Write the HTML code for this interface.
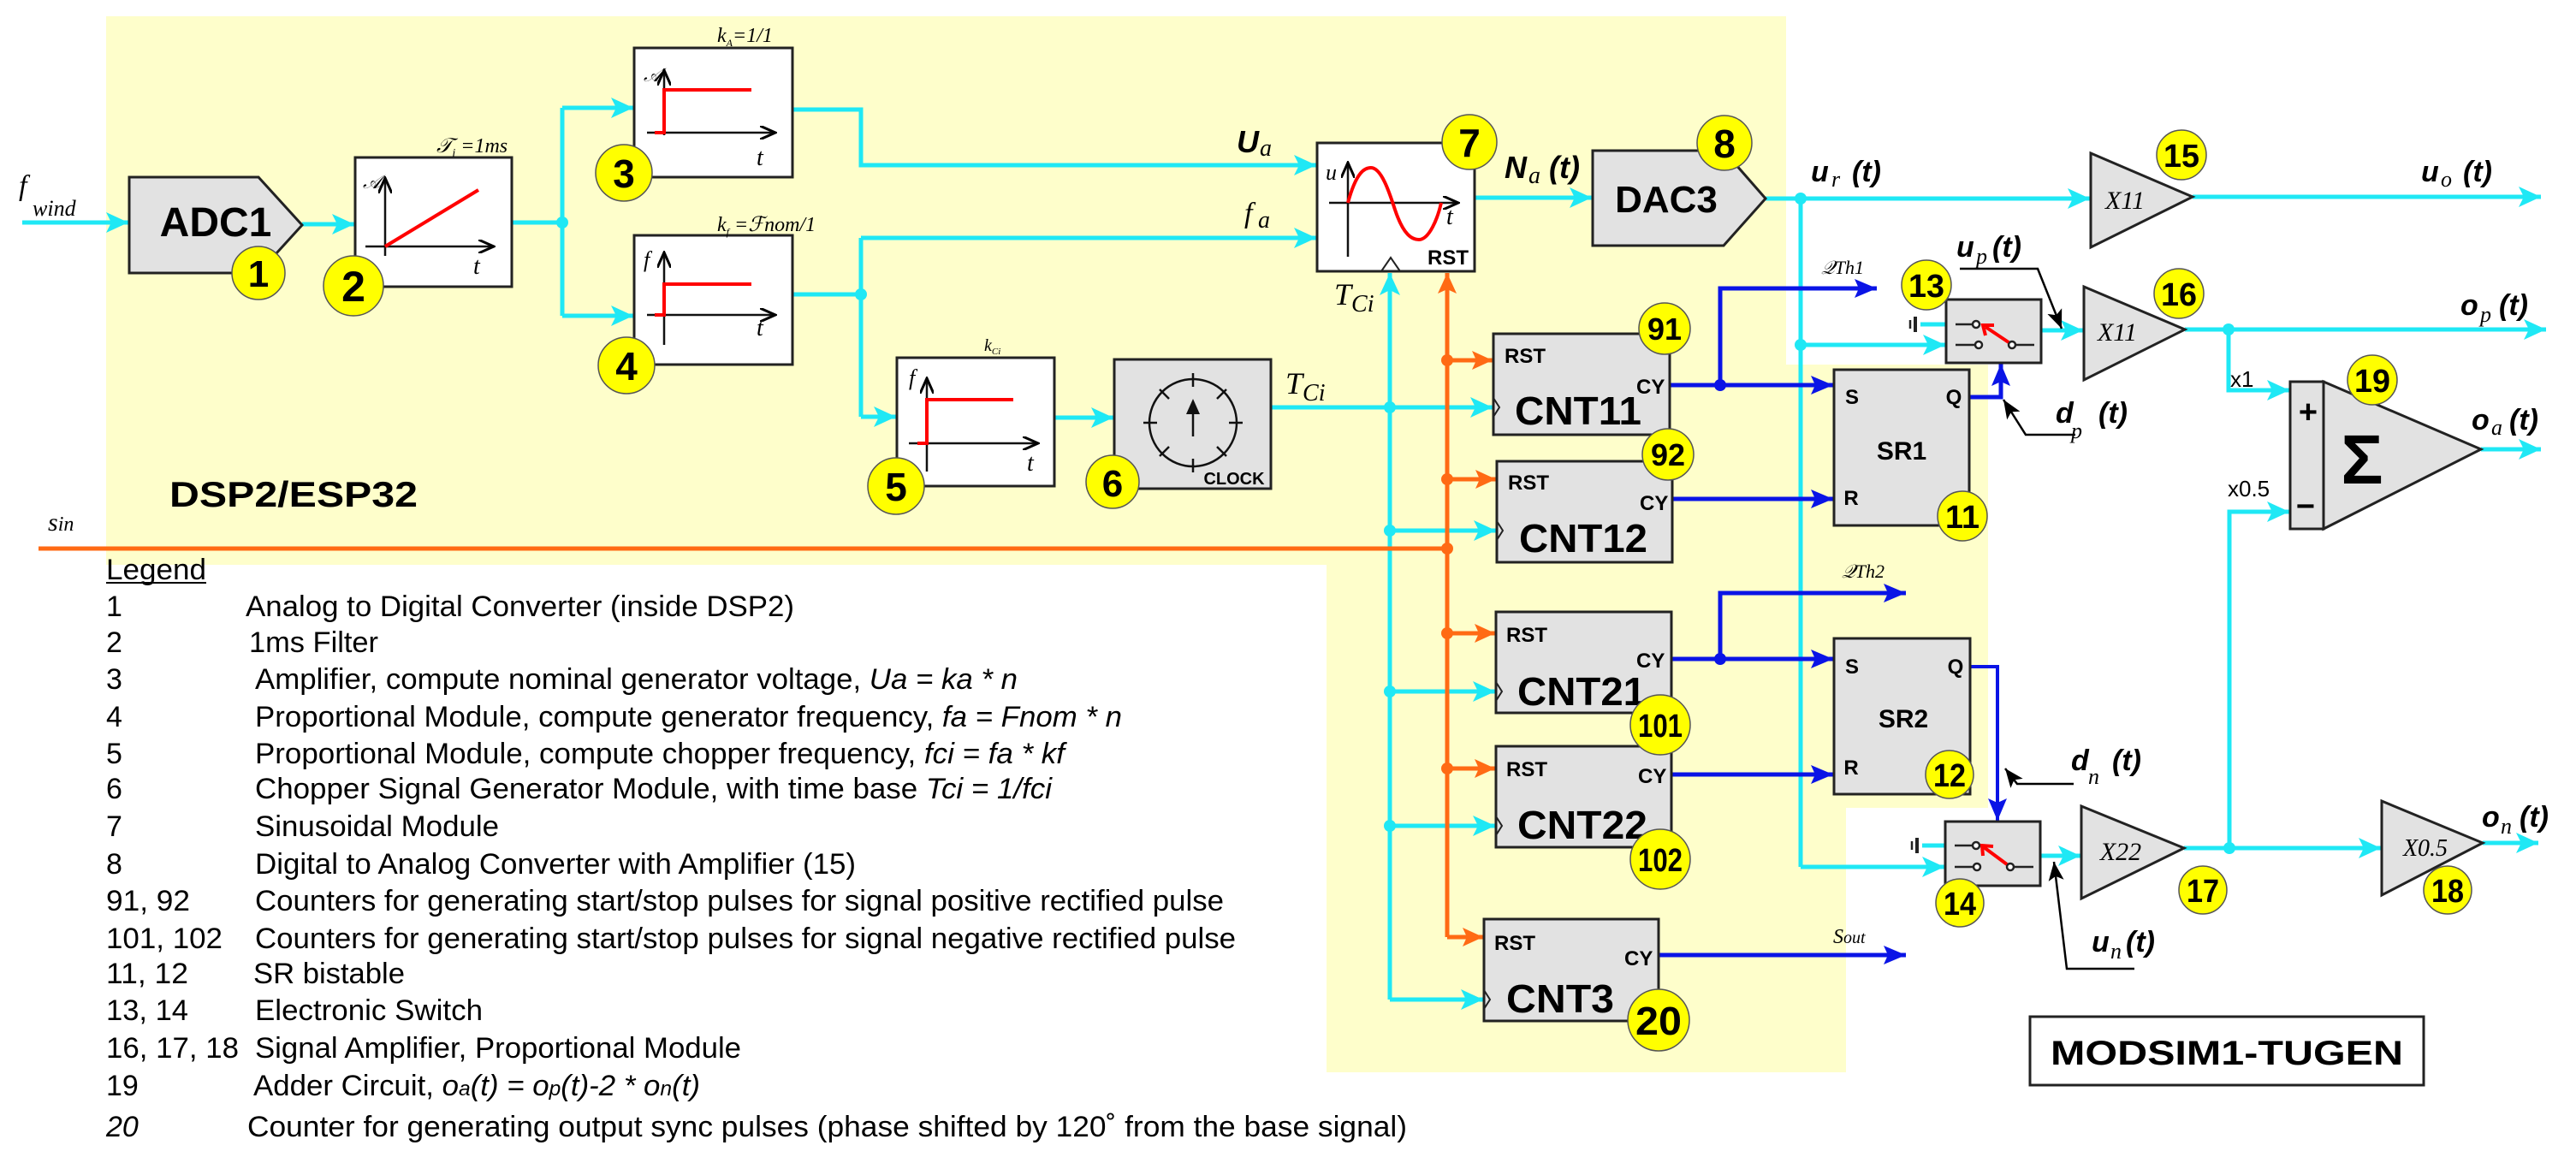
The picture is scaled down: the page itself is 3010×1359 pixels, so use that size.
<!DOCTYPE html>
<html><head><meta charset="utf-8"><style>
html,body{margin:0;padding:0;background:#fff;}
svg{display:block;}
.b{font-family:"Liberation Sans",sans-serif;font-weight:bold;}
.s{font-family:"Liberation Sans",sans-serif;}
.m{font-family:"Liberation Serif",serif;font-style:italic;}
.bi{font-family:"Liberation Sans",sans-serif;font-weight:bold;font-style:italic;}
</style></head><body>
<svg width="3010" height="1359" viewBox="0 0 3010 1359" xmlns="http://www.w3.org/2000/svg">
<defs>
<marker id="ac" markerUnits="userSpaceOnUse" markerWidth="26" markerHeight="24" viewBox="0 0 26 24" refX="26" refY="12" orient="auto"><path d="M0,0 L26,12 L0,24 L6,12 z" fill="#1fe8f5"/></marker>
<marker id="ab" markerUnits="userSpaceOnUse" markerWidth="26" markerHeight="22" viewBox="0 0 26 22" refX="26" refY="11" orient="auto"><path d="M0,0 L26,11 L0,22 L5,11 z" fill="#0a14e6"/></marker>
<marker id="ao" markerUnits="userSpaceOnUse" markerWidth="24" markerHeight="22" viewBox="0 0 24 22" refX="24" refY="11" orient="auto"><path d="M0,0 L24,11 L0,22 L5,11 z" fill="#ff6a14"/></marker>
<marker id="ak" markerUnits="userSpaceOnUse" markerWidth="22" markerHeight="18" viewBox="0 0 22 18" refX="22" refY="9" orient="auto"><path d="M0,0 L22,9 L0,18 L5,9 z" fill="#000"/></marker>
<marker id="ax" markerUnits="userSpaceOnUse" markerWidth="20" markerHeight="16" viewBox="0 0 20 16" refX="18" refY="8" orient="auto"><path d="M0,0 L18,8 L0,16" fill="none" stroke="#000" stroke-width="3"/></marker>
</defs>
<polygon points="124,19 2087,19 2087,426 2323,426 2323,944 2157,944 2157,1253 1550,1253 1550,660 124,660" fill="#fefecb"/>

<g stroke="#1fe8f5" stroke-width="5" fill="none">
<line x1="26" y1="260" x2="150" y2="260" marker-end="url(#ac)"/>
<line x1="353" y1="262" x2="414" y2="262" marker-end="url(#ac)"/>
<line x1="598" y1="260" x2="657" y2="260"/>
<line x1="657" y1="126" x2="657" y2="369"/>
<line x1="657" y1="126" x2="740" y2="126" marker-end="url(#ac)"/>
<line x1="657" y1="369" x2="740" y2="369" marker-end="url(#ac)"/>
<polyline points="926,128 1006,128 1006,193 1538,193" marker-end="url(#ac)"/>
<line x1="926" y1="344" x2="1006" y2="344"/>
<line x1="1006" y1="278" x2="1538" y2="278" marker-end="url(#ac)"/>
<line x1="1006" y1="278" x2="1006" y2="487"/>
<line x1="1006" y1="487" x2="1047" y2="487" marker-end="url(#ac)"/>
<line x1="1232" y1="488" x2="1301" y2="488" marker-end="url(#ac)"/>
<line x1="1485" y1="476" x2="1744" y2="476" marker-end="url(#ac)"/>
<line x1="1624" y1="1168" x2="1624" y2="319" marker-end="url(#ac)"/>
<line x1="1624" y1="620" x2="1748" y2="620" marker-end="url(#ac)"/>
<line x1="1624" y1="808" x2="1747" y2="808" marker-end="url(#ac)"/>
<line x1="1624" y1="965" x2="1747" y2="965" marker-end="url(#ac)"/>
<line x1="1624" y1="1168" x2="1733" y2="1168" marker-end="url(#ac)"/>
<line x1="1723" y1="231" x2="1860" y2="231" marker-end="url(#ac)"/>
<line x1="2063" y1="232" x2="2442" y2="232" marker-end="url(#ac)"/>
<line x1="2104" y1="232" x2="2104" y2="1013"/>
<line x1="2104" y1="403" x2="2273" y2="403" marker-end="url(#ac)"/>
<line x1="2104" y1="1013" x2="2272" y2="1013" marker-end="url(#ac)"/>
<line x1="2562" y1="230" x2="2969" y2="230" marker-end="url(#ac)"/>
<line x1="2385" y1="386" x2="2434" y2="386" marker-end="url(#ac)"/>
<line x1="2244" y1="379" x2="2274" y2="379"/>
<line x1="2246" y1="988" x2="2273" y2="988"/>
<line x1="2553" y1="385" x2="2975" y2="385" marker-end="url(#ac)"/>
<polyline points="2604,385 2604,456 2675,456" marker-end="url(#ac)"/>
<line x1="2899" y1="525" x2="2969" y2="525" marker-end="url(#ac)"/>
<line x1="2384" y1="1000" x2="2431" y2="1000" marker-end="url(#ac)"/>
<line x1="2552" y1="991" x2="2782" y2="991" marker-end="url(#ac)"/>
<polyline points="2605,991 2605,598 2675,598" marker-end="url(#ac)"/>
<line x1="2901" y1="985" x2="2966" y2="985" marker-end="url(#ac)"/>
</g>
<g fill="#1fe8f5">
<circle cx="657" cy="260" r="7"/><circle cx="1006" cy="344" r="7"/><circle cx="1624" cy="476" r="7"/>
<circle cx="1624" cy="620" r="7"/><circle cx="1624" cy="808" r="7"/><circle cx="1624" cy="965" r="7"/>
<circle cx="2104" cy="232" r="7"/><circle cx="2104" cy="403" r="7"/><circle cx="2604" cy="385" r="7"/><circle cx="2605" cy="991" r="7"/>
</g>

<g stroke="#ff6a14" stroke-width="5" fill="none">
<line x1="45" y1="641" x2="1691" y2="641"/>
<line x1="1691" y1="1095" x2="1691" y2="319" marker-end="url(#ao)"/>
<line x1="1691" y1="421" x2="1744" y2="421" marker-end="url(#ao)"/>
<line x1="1691" y1="560" x2="1748" y2="560" marker-end="url(#ao)"/>
<line x1="1691" y1="740" x2="1747" y2="740" marker-end="url(#ao)"/>
<line x1="1691" y1="898" x2="1747" y2="898" marker-end="url(#ao)"/>
<line x1="1691" y1="1095" x2="1733" y2="1095" marker-end="url(#ao)"/>
</g>
<g fill="#ff6a14"><circle cx="1691" cy="421" r="7"/><circle cx="1691" cy="560" r="7"/><circle cx="1691" cy="641" r="7"/><circle cx="1691" cy="740" r="7"/><circle cx="1691" cy="898" r="7"/></g>

<g stroke="#0a14e6" stroke-width="5" fill="none">
<line x1="1951" y1="450" x2="2142" y2="450" marker-end="url(#ab)"/>
<polyline points="2010,450 2010,337 2193,337" marker-end="url(#ab)"/>
<line x1="1954" y1="583" x2="2142" y2="583" marker-end="url(#ab)"/>
<line x1="1953" y1="770" x2="2142" y2="770" marker-end="url(#ab)"/>
<polyline points="2010,770 2010,693 2227,693" marker-end="url(#ab)"/>
<line x1="1953" y1="905" x2="2142" y2="905" marker-end="url(#ab)"/>
<polyline points="2301,464 2338,464 2338,425" marker-end="url(#ab)"/>
<polyline points="2302,779 2334,779 2334,959" marker-end="url(#ab)" stroke-width="4"/>
<line x1="1938" y1="1116" x2="2227" y2="1116" marker-end="url(#ab)"/>
</g>
<g fill="#0a14e6"><circle cx="2010" cy="450" r="7"/><circle cx="2010" cy="770" r="7"/></g>

<g stroke="#000" stroke-width="2.5" fill="none">
<polyline points="2290,314 2381,314 2409,384" marker-end="url(#ak)"/>
<polyline points="2425,508 2367,508 2341,467" marker-end="url(#ak)"/>
<polyline points="2423,916 2357,916 2343,898" marker-end="url(#ak)"/>
<polyline points="2494,1132 2415,1132 2400,1007" marker-end="url(#ak)"/>
</g>

<g stroke="#222" stroke-width="3">
<polygon points="151,207 302,207 353,263 302,319 151,319" fill="#e2e2e2"/>
<rect x="415" y="184" width="183" height="151" fill="#fff"/>
<rect x="741" y="56" width="185" height="151" fill="#fff"/>
<rect x="741" y="275" width="185" height="151" fill="#fff"/>
<rect x="1048" y="418" width="184" height="150" fill="#fff"/>
<rect x="1302" y="420" width="183" height="151" fill="#e2e2e2"/>
<rect x="1539" y="167" width="184" height="150" fill="#fff"/>
<polygon points="1861,176 2014,176 2063,232 2014,287 1861,287" fill="#e2e2e2"/>
<rect x="1745" y="390" width="206" height="118" fill="#e2e2e2"/>
<rect x="1749" y="539" width="205" height="118" fill="#e2e2e2"/>
<rect x="1748" y="715" width="205" height="118" fill="#e2e2e2"/>
<rect x="1748" y="872" width="205" height="118" fill="#e2e2e2"/>
<rect x="1734" y="1074" width="204" height="119" fill="#e2e2e2"/>
<rect x="2143" y="432" width="158" height="182" fill="#e2e2e2"/>
<rect x="2143" y="746" width="159" height="182" fill="#e2e2e2"/>
<rect x="2274" y="350" width="111" height="74" fill="#e2e2e2"/>
<rect x="2273" y="960" width="111" height="75" fill="#e2e2e2"/>
<polygon points="2443,179 2562,230 2443,289" fill="#e2e2e2"/>
<polygon points="2435,335 2553,385 2435,444" fill="#e2e2e2"/>
<polygon points="2432,942 2552,991 2432,1050" fill="#e2e2e2"/>
<polygon points="2783,936 2901,985 2783,1046" fill="#e2e2e2"/>
<rect x="2676" y="446" width="39" height="172" fill="#e2e2e2"/>
<polygon points="2715,446 2899,525 2715,618" fill="#e2e2e2"/>
<rect x="2372" y="1188" width="460" height="80" fill="#fff"/>
</g>
<g stroke="#222" stroke-width="2" fill="none">
<polyline points="1614,317 1625,301 1636,317"/>
<polyline points="1745,465 1752,476 1745,487"/>
<polyline points="1749,609 1756,620 1749,631"/>
<polyline points="1748,797 1755,808 1748,819"/>
<polyline points="1748,954 1755,965 1748,976"/>
<polyline points="1734,1157 1741,1168 1734,1179"/>
</g>

<g stroke="#111" stroke-width="2.5" fill="none">
<line x1="450" y1="299" x2="450" y2="208" marker-end="url(#ax)"/><line x1="427" y1="288" x2="577" y2="288" marker-end="url(#ax)"/>
<line x1="776" y1="158" x2="776" y2="82" marker-end="url(#ax)"/><line x1="756" y1="155" x2="906" y2="155" marker-end="url(#ax)"/>
<line x1="776" y1="403" x2="776" y2="295" marker-end="url(#ax)"/><line x1="756" y1="368" x2="906" y2="368" marker-end="url(#ax)"/>
<line x1="1083" y1="551" x2="1083" y2="442" marker-end="url(#ax)"/><line x1="1062" y1="518" x2="1213" y2="518" marker-end="url(#ax)"/>
<line x1="1575" y1="300" x2="1575" y2="190" marker-end="url(#ax)"/><line x1="1553" y1="237" x2="1704" y2="237" marker-end="url(#ax)"/>
</g>
<g stroke="#f00" stroke-width="4" fill="none">
<line x1="450" y1="288" x2="559" y2="222"/>
<polyline points="765,155 776,155 776,105 878,105"/>
<polyline points="765,368 776,368 776,332 878,332"/>
<polyline points="1072,518 1083,518 1083,467 1184,467"/>
<path d="M1575,237 C1585,200 1595,196 1602,196 C1615,196 1625,230 1630,245 C1640,275 1650,280 1658,280 C1670,280 1680,255 1684,237"/>
</g>
<g stroke="#111" stroke-width="2.5" fill="none">
<circle cx="1394" cy="494" r="51"/>
<line x1="1394" y1="436" x2="1394" y2="452"/><line x1="1394" y1="536" x2="1394" y2="552"/>
<line x1="1336" y1="494" x2="1352" y2="494"/><line x1="1436" y1="494" x2="1452" y2="494"/>
<line x1="1355" y1="455" x2="1366" y2="466"/><line x1="1422" y1="522" x2="1433" y2="533"/>
<line x1="1433" y1="455" x2="1422" y2="466"/><line x1="1366" y1="522" x2="1355" y2="533"/>
<line x1="1394" y1="510" x2="1394" y2="480"/>
</g>
<polygon points="1394,466 1386,484 1402,484" fill="#111"/>
<g stroke="#222" stroke-width="2.5" fill="none">
<line x1="2285" y1="379" x2="2305" y2="379"/><circle cx="2309" cy="379" r="4" fill="#fff"/>
<line x1="2285" y1="403" x2="2308" y2="403"/><circle cx="2312" cy="403" r="4" fill="#fff"/>
<circle cx="2351" cy="403" r="4" fill="#fff"/><line x1="2355" y1="403" x2="2377" y2="403"/>
<line x1="2284" y1="988" x2="2305" y2="988"/><circle cx="2309" cy="988" r="4" fill="#fff"/>
<line x1="2284" y1="1013" x2="2306" y2="1013"/><circle cx="2310" cy="1013" r="4" fill="#fff"/>
<circle cx="2349" cy="1013" r="4" fill="#fff"/><line x1="2353" y1="1013" x2="2376" y2="1013"/>
<line x1="2238" y1="370" x2="2238" y2="388" stroke-width="4"/><line x1="2232" y1="374" x2="2232" y2="384"/>
<line x1="2240" y1="979" x2="2240" y2="997" stroke-width="4"/><line x1="2234" y1="983" x2="2234" y2="993"/>
</g>
<g stroke="#f00" stroke-width="4" fill="none">
<line x1="2347" y1="400" x2="2320" y2="382"/><polyline points="2320,392 2317,380 2330,380"/>
<line x1="2345" y1="1010" x2="2318" y2="990"/><polyline points="2317,1000 2316,988 2329,989"/>
</g>

<text class="m" x="22" y="228" font-size="34">f</text><text class="m" x="38" y="252" font-size="26">wind</text>
<text class="b" x="252" y="276" font-size="48" text-anchor="middle">ADC1</text>
<text class="m" x="510" y="178" font-size="24">𝒯<tspan font-size="14" dy="5">i</tspan><tspan dy="-5"> =1ms</tspan></text>
<text class="m" x="424" y="220" font-size="22">𝒜</text><text class="m" x="553" y="320" font-size="28">t</text>
<text class="m" x="838" y="49" font-size="24">k<tspan font-size="12" dy="5">A</tspan><tspan dy="-5">=1/1</tspan></text>
<text class="m" x="752" y="95" font-size="22">𝒜</text><text class="m" x="884" y="193" font-size="28">t</text>
<text class="m" x="838" y="270" font-size="24">k<tspan font-size="12" dy="5">f</tspan><tspan dy="-5">  =ℱnom/1</tspan></text>
<text class="m" x="752" y="312" font-size="26">f</text><text class="m" x="884" y="392" font-size="28">t</text>
<text class="m" x="1150" y="410" font-size="20">k<tspan font-size="11" dy="4">Ci</tspan></text>
<text class="m" x="1062" y="450" font-size="26">f</text><text class="m" x="1200" y="550" font-size="28">t</text>
<text class="b" x="1442" y="566" font-size="20" text-anchor="middle">CLOCK</text>
<text class="m" x="1502" y="460" font-size="36">T<tspan font-size="28" dy="8">Ci</tspan></text>
<text class="m" x="1559" y="356" font-size="36">T<tspan font-size="28" dy="8">Ci</tspan></text>
<text class="m" x="1549" y="210" font-size="26">u</text><text class="m" x="1690" y="262" font-size="28">t</text>
<text class="b" x="1692" y="309" font-size="24" text-anchor="middle">RST</text>
<text class="b" x="198" y="592" font-size="42" textLength="290" lengthAdjust="spacingAndGlyphs">DSP2/ESP32</text>
<text class="m" x="56" y="620" font-size="30">s<tspan font-size="24">in</tspan></text>
<text class="bi" x="1445" y="178" font-size="36">U</text><text class="m" x="1472" y="182" font-size="28">a</text>
<text class="m" x="1454" y="260" font-size="34">f</text><text class="m" x="1470" y="266" font-size="28">a</text>
<text class="bi" x="1758" y="208" font-size="36">N</text><text class="m" x="1786" y="214" font-size="28">a</text><text class="bi" x="1810" y="208" font-size="36">(t)</text>
<text class="b" x="1947" y="248" font-size="44" text-anchor="middle">DAC3</text>
<text class="b" x="1758" y="424" font-size="24">RST</text><text class="b" x="1912" y="460" font-size="24">CY</text>
<text class="b" x="1770" y="496" font-size="46" textLength="148" lengthAdjust="spacingAndGlyphs">CNT11</text>
<text class="b" x="1762" y="572" font-size="24">RST</text><text class="b" x="1916" y="596" font-size="24">CY</text>
<text class="b" x="1775" y="645" font-size="46" textLength="150" lengthAdjust="spacingAndGlyphs">CNT12</text>
<text class="b" x="1760" y="750" font-size="24">RST</text><text class="b" x="1912" y="780" font-size="24">CY</text>
<text class="b" x="1773" y="824" font-size="46" textLength="150" lengthAdjust="spacingAndGlyphs">CNT21</text>
<text class="b" x="1760" y="907" font-size="24">RST</text><text class="b" x="1914" y="915" font-size="24">CY</text>
<text class="b" x="1773" y="980" font-size="46" textLength="152" lengthAdjust="spacingAndGlyphs">CNT22</text>
<text class="b" x="1746" y="1110" font-size="24">RST</text><text class="b" x="1898" y="1128" font-size="24">CY</text>
<text class="b" x="1760" y="1183" font-size="46" textLength="126" lengthAdjust="spacingAndGlyphs">CNT3</text>
<text class="b" x="2164" y="472" font-size="24" text-anchor="middle">S</text><text class="b" x="2283" y="472" font-size="24" text-anchor="middle">Q</text>
<text class="b" x="2222" y="537" font-size="30" text-anchor="middle">SR1</text><text class="b" x="2163" y="590" font-size="24" text-anchor="middle">R</text>
<text class="b" x="2164" y="787" font-size="24" text-anchor="middle">S</text><text class="b" x="2285" y="787" font-size="24" text-anchor="middle">Q</text>
<text class="b" x="2224" y="850" font-size="30" text-anchor="middle">SR2</text><text class="b" x="2163" y="905" font-size="24" text-anchor="middle">R</text>
<text class="m" x="2128" y="320" font-size="22">𝒬Th1</text>
<text class="m" x="2152" y="675" font-size="22">𝒬Th2</text>
<text class="m" x="2142" y="1102" font-size="24">S<tspan font-size="20">out</tspan></text>
<text class="bi" x="2116" y="212" font-size="34">u</text><text class="m" x="2140" y="218" font-size="26">r</text><text class="bi" x="2164" y="212" font-size="34">(t)</text>
<text class="bi" x="2829" y="212" font-size="34">u</text><text class="m" x="2852" y="218" font-size="26">o</text><text class="bi" x="2878" y="212" font-size="34">(t)</text>
<text class="bi" x="2286" y="300" font-size="34">u</text><text class="m" x="2309" y="308" font-size="26">p</text><text class="bi" x="2328" y="300" font-size="34">(t)</text>
<text class="bi" x="2875" y="368" font-size="34">o</text><text class="m" x="2898" y="376" font-size="26">p</text><text class="bi" x="2920" y="368" font-size="34">(t)</text>
<text class="bi" x="2888" y="502" font-size="34">o</text><text class="m" x="2911" y="508" font-size="26">a</text><text class="bi" x="2932" y="502" font-size="34">(t)</text>
<text class="bi" x="2402" y="494" font-size="34">d</text><text class="m" x="2420" y="512" font-size="26">p</text><text class="bi" x="2452" y="494" font-size="34">(t)</text>
<text class="bi" x="2420" y="900" font-size="34">d</text><text class="m" x="2440" y="916" font-size="26">n</text><text class="bi" x="2468" y="900" font-size="34">(t)</text>
<text class="bi" x="2444" y="1112" font-size="34">u</text><text class="m" x="2466" y="1120" font-size="26">n</text><text class="bi" x="2484" y="1112" font-size="34">(t)</text>
<text class="bi" x="2900" y="966" font-size="34">o</text><text class="m" x="2922" y="974" font-size="26">n</text><text class="bi" x="2944" y="966" font-size="34">(t)</text>
<text class="m" x="2483" y="244" font-size="30" text-anchor="middle">X11</text>
<text class="m" x="2474" y="398" font-size="30" text-anchor="middle">X11</text>
<text class="m" x="2478" y="1005" font-size="30" text-anchor="middle">X22</text>
<text class="m" x="2834" y="1000" font-size="28" text-anchor="middle">X0.5</text>
<text class="s" x="2606" y="452" font-size="26">x1</text>
<text class="s" x="2603" y="580" font-size="26">x0.5</text>
<text class="b" x="2697" y="494" font-size="38" text-anchor="middle">+</text>
<text class="b" x="2694" y="604" font-size="38" text-anchor="middle">−</text>
<text class="b" x="2760" y="565" font-size="82" text-anchor="middle">Σ</text>
<text class="b" x="2602" y="1244" font-size="40" text-anchor="middle" textLength="412" lengthAdjust="spacingAndGlyphs">MODSIM1-TUGEN</text>

<g font-family="Liberation Sans, sans-serif" font-weight="bold" text-anchor="middle">
<g stroke="#555" stroke-width="1.5" fill="#ffff00">
<circle cx="302" cy="319" r="31"/><circle cx="413" cy="334" r="35"/><circle cx="729" cy="202" r="33"/><circle cx="732" cy="427" r="33"/>
<circle cx="1047" cy="568" r="33"/><circle cx="1300" cy="563" r="31"/><circle cx="1717" cy="166" r="32"/><circle cx="2015" cy="167" r="32"/>
<circle cx="1945" cy="384" r="30"/><circle cx="1949" cy="531" r="30"/><circle cx="1940" cy="847" r="35"/><circle cx="1940" cy="1004" r="35"/>
<circle cx="2293" cy="603" r="29"/><circle cx="2278" cy="905" r="28"/><circle cx="2251" cy="333" r="29"/><circle cx="2290" cy="1055" r="28"/>
<circle cx="2549" cy="181" r="29"/><circle cx="2546" cy="343" r="29"/><circle cx="2574" cy="1040" r="28"/><circle cx="2860" cy="1040" r="28"/>
<circle cx="2772" cy="444" r="29"/><circle cx="1938" cy="1192" r="36"/>
</g>
<g fill="#000">
<text x="302" y="335" font-size="44">1</text><text x="413" y="352" font-size="50">2</text><text x="729" y="219" font-size="46">3</text><text x="732" y="444" font-size="46">4</text>
<text x="1047" y="585" font-size="46">5</text><text x="1300" y="580" font-size="44">6</text><text x="1717" y="183" font-size="46">7</text><text x="2015" y="184" font-size="46">8</text>
<text x="1945" y="397" font-size="36" textLength="40" lengthAdjust="spacingAndGlyphs">91</text><text x="1949" y="544" font-size="36" textLength="40" lengthAdjust="spacingAndGlyphs">92</text>
<text x="1940" y="861" font-size="38" textLength="52" lengthAdjust="spacingAndGlyphs">101</text><text x="1940" y="1018" font-size="38" textLength="52" lengthAdjust="spacingAndGlyphs">102</text>
<text x="2293" y="617" font-size="38" textLength="40" lengthAdjust="spacingAndGlyphs">11</text><text x="2278" y="919" font-size="38" textLength="38" lengthAdjust="spacingAndGlyphs">12</text>
<text x="2251" y="347" font-size="38" textLength="42" lengthAdjust="spacingAndGlyphs">13</text><text x="2290" y="1069" font-size="38" textLength="38" lengthAdjust="spacingAndGlyphs">14</text>
<text x="2549" y="195" font-size="38" textLength="42" lengthAdjust="spacingAndGlyphs">15</text><text x="2546" y="357" font-size="38" textLength="42" lengthAdjust="spacingAndGlyphs">16</text>
<text x="2574" y="1054" font-size="38" textLength="38" lengthAdjust="spacingAndGlyphs">17</text><text x="2860" y="1054" font-size="38" textLength="38" lengthAdjust="spacingAndGlyphs">18</text>
<text x="2772" y="458" font-size="38" textLength="42" lengthAdjust="spacingAndGlyphs">19</text><text x="1938" y="1209" font-size="46" textLength="54" lengthAdjust="spacingAndGlyphs">20</text>
</g>
</g>

<g class="s" font-size="34" fill="#000">
<text x="124" y="677" textLength="117" lengthAdjust="spacingAndGlyphs">Legend</text>
<line x1="124" y1="681" x2="241" y2="681" stroke="#000" stroke-width="2"/>
<text x="124" y="720">1</text><text x="287" y="720" textLength="641" lengthAdjust="spacingAndGlyphs">Analog to Digital Converter (inside DSP2)</text>
<text x="124" y="762">2</text><text x="291" y="762" textLength="151" lengthAdjust="spacingAndGlyphs">1ms Filter</text>
<text x="124" y="805">3</text><text x="298" y="805" textLength="891" lengthAdjust="spacingAndGlyphs">Amplifier, compute nominal generator voltage, <tspan font-style="italic">Ua = ka * n</tspan></text>
<text x="124" y="849">4</text><text x="298" y="849" textLength="1013" lengthAdjust="spacingAndGlyphs">Proportional Module, compute generator frequency, <tspan font-style="italic">fa = Fnom * n</tspan></text>
<text x="124" y="892">5</text><text x="298" y="892" textLength="946" lengthAdjust="spacingAndGlyphs">Proportional Module, compute chopper frequency, <tspan font-style="italic">fci = fa * kf</tspan></text>
<text x="124" y="933">6</text><text x="298" y="933" textLength="931" lengthAdjust="spacingAndGlyphs">Chopper Signal Generator Module, with time base <tspan font-style="italic">Tci = 1/fci</tspan></text>
<text x="124" y="977">7</text><text x="298" y="977" textLength="285" lengthAdjust="spacingAndGlyphs">Sinusoidal Module</text>
<text x="124" y="1021">8</text><text x="298" y="1021" textLength="702" lengthAdjust="spacingAndGlyphs">Digital to Analog Converter with Amplifier (15)</text>
<text x="124" y="1064" textLength="98" lengthAdjust="spacingAndGlyphs">91, 92</text><text x="298" y="1064" textLength="1132" lengthAdjust="spacingAndGlyphs">Counters for generating start/stop pulses for signal positive rectified pulse</text>
<text x="124" y="1108" textLength="136" lengthAdjust="spacingAndGlyphs">101, 102</text><text x="298" y="1108" textLength="1146" lengthAdjust="spacingAndGlyphs">Counters for generating start/stop pulses for signal negative rectified pulse</text>
<text x="124" y="1149" textLength="96" lengthAdjust="spacingAndGlyphs">11, 12</text><text x="296" y="1149" textLength="177" lengthAdjust="spacingAndGlyphs">SR bistable</text>
<text x="124" y="1192" textLength="96" lengthAdjust="spacingAndGlyphs">13, 14</text><text x="298" y="1192" textLength="266" lengthAdjust="spacingAndGlyphs">Electronic Switch</text>
<text x="124" y="1236" textLength="155" lengthAdjust="spacingAndGlyphs">16, 17, 18</text><text x="298" y="1236" textLength="568" lengthAdjust="spacingAndGlyphs">Signal Amplifier, Proportional Module</text>
<text x="124" y="1280">19</text><text x="296" y="1280" textLength="522" lengthAdjust="spacingAndGlyphs">Adder Circuit, <tspan font-style="italic">o<tspan font-size="24">a</tspan>(t) = o<tspan font-size="24">p</tspan>(t)-2 * o<tspan font-size="24">n</tspan>(t)</tspan></text>
<text x="124" y="1328" font-style="italic">20</text><text x="289" y="1328" textLength="1355" lengthAdjust="spacingAndGlyphs">Counter for generating output sync pulses (phase shifted by 120˚ from the base signal)</text>
</g>
</svg>
</body></html>
